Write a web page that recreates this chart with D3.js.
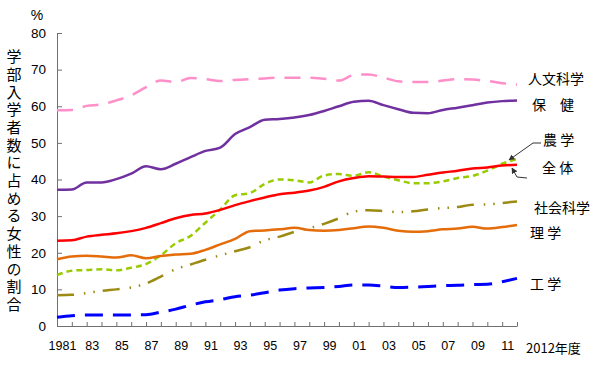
<!DOCTYPE html>
<html>
<head>
<meta charset="utf-8">
<script src="https://cdn.jsdelivr.net/npm/d3@7"></script>
<style>
  body { margin: 0; background: #fff; }
  svg { display: block; }
  .tick text { font-family: "Liberation Sans", Arial, sans-serif; fill: #000; }
  .jp { font-family: "Noto Sans CJK JP", sans-serif; fill: #000; }
</style>
</head>
<body>
<div id="chart"></div>
<script>
// years 1981 - 2012
var years = d3.range(1981, 2013);

// share of women among entering undergraduates (%)
var humanities = [58.9, 59.0, 60.1, 60.5, 61.6, 63.0, 65.2, 67.0, 66.6, 67.7, 67.4, 66.9, 67.2, 67.4, 67.6, 67.8,
  67.8, 67.8, 67.5, 67.0, 68.5, 68.7, 67.8, 66.8, 66.6, 66.6, 67.0, 67.4, 67.3, 66.9, 66.3, 65.9];
var health = [37.2, 37.3, 39.2, 39.2, 40.1, 41.6, 43.6, 42.8, 44.3, 46.1, 47.8, 48.7, 52.4, 54.3, 56.3, 56.5,
  56.9, 57.6, 58.7, 60.0, 61.2, 61.5, 60.3, 59.2, 58.2, 58.1, 59.0, 59.6, 60.3, 61.0, 61.4, 61.6];
var agriculture = [13.9, 15.1, 15.3, 15.5, 15.2, 15.9, 16.9, 19.3, 22.6, 24.6, 28.2, 31.8, 35.7, 36.3, 38.8, 40.0,
  39.8, 39.2, 41.1, 41.5, 41.0, 42.0, 40.8, 39.8, 39.0, 39.0, 39.5, 40.4, 41.0, 42.4, 44.3, 45.6];
var overall = [23.3, 23.4, 24.4, 24.9, 25.3, 25.9, 26.8, 28.1, 29.4, 30.3, 30.7, 31.7, 33.0, 34.1, 35.1, 36.0,
  36.4, 37.0, 38.0, 39.5, 40.4, 40.9, 40.8, 40.7, 40.7, 41.3, 41.9, 42.4, 43.0, 43.3, 43.8, 44.0];
var social = [8.4, 8.5, 9.0, 9.6, 10.0, 10.5, 11.6, 13.5, 15.5, 16.8, 18.1, 19.3, 20.4, 21.5, 23.4, 24.4,
  25.7, 26.7, 27.9, 29.4, 31.2, 31.6, 31.4, 31.1, 31.3, 31.8, 32.2, 32.5, 33.1, 33.2, 33.6, 34.0];
var science = [18.2, 19.0, 19.2, 19.0, 18.7, 19.3, 18.5, 19.1, 19.5, 19.7, 20.8, 22.3, 23.8, 25.9, 26.1, 26.4,
  26.8, 26.2, 26.0, 26.2, 26.7, 27.2, 26.8, 26.0, 25.7, 25.9, 26.4, 26.6, 27.1, 26.6, 27.0, 27.6];
var engineering = [2.4, 2.8, 3.0, 3.0, 3.0, 3.0, 3.1, 3.8, 4.6, 5.7, 6.6, 7.2, 8.0, 8.4, 9.1, 9.8,
  10.2, 10.4, 10.5, 10.8, 11.2, 11.2, 10.9, 10.5, 10.6, 10.8, 11.0, 11.1, 11.3, 11.4, 12.1, 13.0];

var yTicks = d3.range(0, 90, 10);
var yTitle = "学部入学者数に占める女性の割合";

var series = [
  { name: "人文科学", values: humanities, color: "#ff8fc8", width: 2.5, dash: "16,10", lx: 528, ly: 78 },
  { name: "保　健", values: health, color: "#7030a0", width: 2.5, dash: null, lx: 532, ly: 104 },
  { name: "農 学", values: agriculture, color: "#99cc00", width: 2.5, dash: "6,4", lx: 543, ly: 139 },
  { name: "全 体", values: overall, color: "#ff0000", width: 2.5, dash: null, lx: 542, ly: 167 },
  { name: "社会科学", values: social, color: "#9c8a12", width: 2.5, dash: "17,10,1.5,8,1.5,8", lx: 534, ly: 207 },
  { name: "理 学", values: science, color: "#e46c0a", width: 2.5, dash: null, lx: 530, ly: 232 },
  { name: "工 学", values: engineering, color: "#0000ff", width: 3, dash: "18,10", lx: 530, ly: 283 }
];

var svgWidth = 600;
var svgHeight = 371;

var svg = d3.select("#chart")
  .append("svg")
  .attr("width", svgWidth)
  .attr("height", svgHeight);

var xScale = d3.scaleLinear().domain([1981, 2012]).range([57, 517]);
var yScale = d3.scaleLinear().domain([0, 80]).range([326, 33]);

// y axis
var leftAxis = d3.axisLeft(yScale)
  .tickValues(yTicks)
  .tickSizeInner(-5)
  .tickSizeOuter(0)
  .tickPadding(11);

var yAxis = svg.append("g")
  .attr("transform", "translate(57,0)")
  .call(leftAxis);
yAxis.selectAll("text").style("font-size", "13.5px");

// x axis, a tick every year and a label every other year
var bottomAxis = d3.axisBottom(xScale)
  .tickValues(years)
  .tickSizeInner(-4)
  .tickSizeOuter(0)
  .tickPadding(15)
  .tickFormat(function (d) {
    var i = d - 1981;
    if (i % 2 !== 0) return "";
    return d === 1981 ? "1981" : String(d).slice(2);
  });

var xAxis = svg.append("g")
  .attr("transform", "translate(0,326)")
  .call(bottomAxis);
xAxis.selectAll("text").style("font-size", "12.5px").attr("dx", 5);

svg.selectAll(".domain, .tick line").attr("stroke", "#707070");

svg.append("text")
  .attr("x", 526)
  .attr("y", 353)
  .attr("class", "jp")
  .style("font-size", "13px")
  .text("2012年度");

svg.append("text")
  .attr("x", 37)
  .attr("y", 20)
  .attr("text-anchor", "middle")
  .style("font-family", "'Liberation Sans', Arial, sans-serif")
  .style("font-size", "14px")
  .text("%");

// vertical title
svg.append("text")
  .attr("class", "jp")
  .attr("x", 14)
  .attr("y", 49)
  .style("writing-mode", "vertical-rl")
  .style("font-size", "15px")
  .style("letter-spacing", "2.7px")
  .text(yTitle);

// lines
var line = d3.line()
  .x((d, i) => xScale(years[i]))
  .y(d => yScale(d))
  .curve(d3.curveMonotoneX);

svg.append("g")
  .selectAll("path")
  .data(series)
  .enter()
  .append("path")
  .attr("d", d => line(d.values))
  .attr("fill", "none")
  .attr("stroke", d => d.color)
  .attr("stroke-width", d => d.width)
  .attr("stroke-dasharray", d => d.dash);

// series labels
svg.append("g")
  .selectAll("text")
  .data(series)
  .enter()
  .append("text")
  .attr("class", "jp")
  .attr("x", d => d.lx)
  .attr("y", d => d.ly)
  .attr("dominant-baseline", "central")
  .style("font-size", "14px")
  .text(d => d.name);

// leader arrows for 農学 and 全体
svg.append("defs").append("marker")
  .attr("id", "arrow")
  .attr("viewBox", "0 0 10 10")
  .attr("refX", 9)
  .attr("refY", 5)
  .attr("markerWidth", 6)
  .attr("markerHeight", 6)
  .attr("orient", "auto")
  .append("path")
  .attr("d", "M0,0L10,5L0,10z")
  .attr("fill", "#333");

svg.append("polyline")
  .attr("points", "541,143 533,143 509,160")
  .attr("fill", "none")
  .attr("stroke", "#333")
  .attr("stroke-width", 1)
  .attr("marker-end", "url(#arrow)");

svg.append("polyline")
  .attr("points", "527,178 517,177 512,168")
  .attr("fill", "none")
  .attr("stroke", "#333")
  .attr("stroke-width", 1)
  .attr("marker-end", "url(#arrow)");
</script>
</body>
</html>
